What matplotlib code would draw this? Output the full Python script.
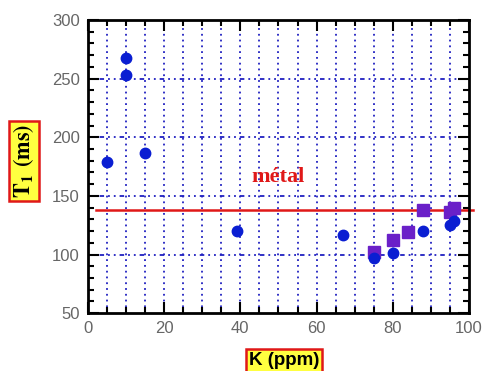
import matplotlib
matplotlib.use("Agg")
import matplotlib.pyplot as plt
from matplotlib.ticker import MultipleLocator

# data
k_circles = [5, 10, 10, 15, 39, 67, 75, 80, 88, 95, 96]
t1_circles = [179, 268, 253, 187, 120, 117, 97, 101, 120, 125, 129]
k_squares = [75, 80, 84, 88, 95, 96]
t1_squares = [102, 112, 119, 138, 136, 140]
metal_level = 138
x_ticks = [0, 20, 40, 60, 80, 100]
y_ticks = [50, 100, 150, 200, 250, 300]

plt.rcParams['mathtext.fontset'] = 'stix'

fig = plt.figure(figsize=(4.83, 3.71), dpi=100)
ax = fig.add_axes([0.182, 0.156, 0.789, 0.790])

# grid: vertical every 5, horizontal every 50
for gx in range(5, 100, 5):
    ax.axvline(gx, color='#2020c0', ls=(0, (1, 2.2)), lw=1.3, zorder=1)
for gy in [100, 150, 200, 250]:
    ax.axhline(gy, color='#2020c0', ls=(0, (1, 2.2, 1, 2.2, 2.5, 2.2)), lw=1.3, zorder=1)

ax.plot([2, 101], [metal_level, metal_level], color='#e01818', lw=1.8, clip_on=False, zorder=2)
ax.plot(k_squares, t1_squares, 's', color='#6a20c8', ms=8.5, zorder=3)
ax.plot(k_circles, t1_circles, 'o', color='#0a1ed2', ms=7.5, zorder=4)

ax.text(50, 166, 'métal', color='#e01818', fontsize=16, fontweight='bold',
        family='Liberation Serif', ha='center', va='center')

ax.set_xlim(0, 100)
ax.set_ylim(50, 300)
ax.set_xticks(x_ticks)
ax.set_yticks(y_ticks)
ax.xaxis.set_minor_locator(MultipleLocator(5))
ax.yaxis.set_minor_locator(MultipleLocator(10))
ax.tick_params(which='both', direction='in', top=True, right=True, width=1.5,
               labelcolor='#666666', labelsize=12, pad=6)
ax.tick_params(which='major', length=8)
ax.tick_params(which='minor', length=4)
for lab in ax.get_xticklabels() + ax.get_yticklabels():
    lab.set_family('Liberation Sans')
for s in ax.spines.values():
    s.set_linewidth(2)

fig.text(0.049, 0.566, r'$\mathbf{T_1}$ $\mathbf{(ms)}$', rotation=90, fontsize=16,
         ha='center', va='center',
         bbox=dict(boxstyle='square,pad=0.12', facecolor='#ffff40', edgecolor='#e01818', lw=1.8))
fig.text(0.588, 0.028, 'K (ppm)', fontsize=13.5, fontweight='bold', family='Liberation Sans',
         ha='center', va='center',
         bbox=dict(boxstyle='square,pad=0.15', facecolor='#ffff40', edgecolor='#e01818', lw=1.8))

fig.savefig('out.png', dpi=100)
